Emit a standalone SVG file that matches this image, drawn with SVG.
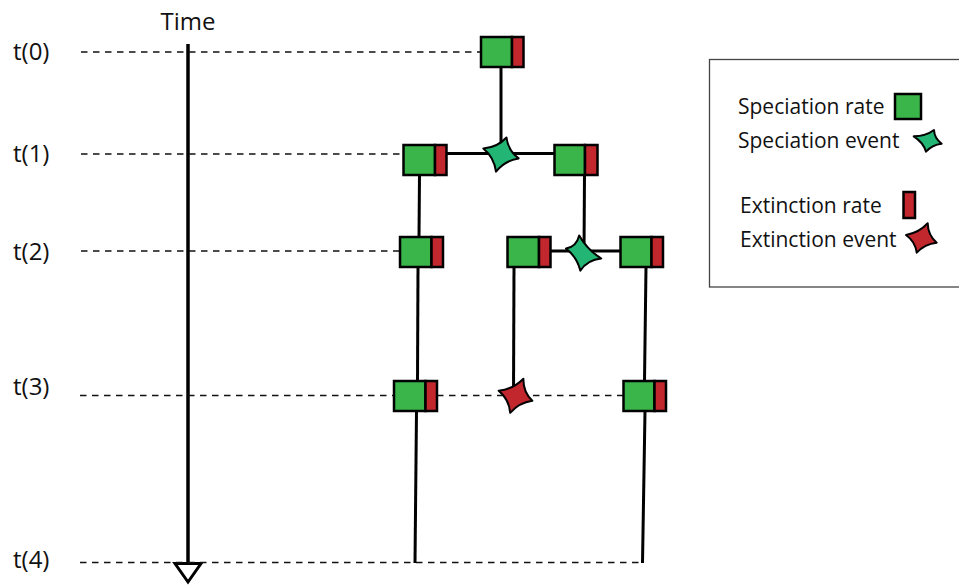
<svg xmlns="http://www.w3.org/2000/svg" width="959" height="585" viewBox="0 0 959 585">
<style>
text{font-family:"Open Sans","Noto Sans","Liberation Sans",sans-serif;fill:#111}
.lbl{font-size:24px}
.leg{font-size:21px}
.dash{stroke:#111;stroke-width:1.5;stroke-dasharray:6.5 5.5;fill:none}
.br{stroke:#000;stroke-width:3;fill:none}
.g{fill:#39b54a;stroke:#000;stroke-width:2.5}
.r{fill:#c1272d;stroke:#000;stroke-width:2.5}
.sg{fill:#22b573;stroke:#000;stroke-width:2;stroke-linejoin:round}
.sr{fill:#c1272d;stroke:#000;stroke-width:2;stroke-linejoin:round}
</style>
<rect width="959" height="585" fill="#fff"/>
<g id="timeaxis">
<text class="lbl" x="160.5" y="29.5">Time</text>
<line x1="188" y1="44" x2="188" y2="563" stroke="#000" stroke-width="3.5"/>
<polygon points="175,563.5 201,563.5 188,582" fill="#fff" stroke="#000" stroke-width="3" stroke-linejoin="miter"/>
</g>
<g id="timelabels">
<text class="lbl" x="13" y="60">t(0)</text>
<text class="lbl" x="13" y="162">t(1)</text>
<text class="lbl" x="13" y="260">t(2)</text>
<text class="lbl" x="13" y="395">t(3)</text>
<text class="lbl" x="13" y="568">t(4)</text>
</g>
<g id="gridlines">
<line class="dash" x1="81" y1="52" x2="481" y2="52"/>
<line class="dash" x1="81" y1="154" x2="404" y2="154"/>
<line class="dash" x1="81" y1="251" x2="400" y2="251"/>
<line class="dash" x1="80" y1="395.5" x2="394" y2="395.5"/>
<line class="dash" x1="437" y1="395.5" x2="623" y2="395.5"/>
<line class="dash" x1="80" y1="562.5" x2="642" y2="562.5"/>
</g>
<g id="connectors">
<line class="br" x1="501" y1="67" x2="501" y2="154"/>
<line class="br" x1="446.5" y1="153.5" x2="554.5" y2="153.5"/>
<line class="br" x1="419.5" y1="175" x2="419" y2="237"/>
<line class="br" x1="418" y1="267" x2="417.5" y2="381"/>
<line class="br" x1="416.5" y1="411" x2="415" y2="563"/>
<line class="br" x1="584.5" y1="175" x2="584" y2="252"/>
<line class="br" x1="550.5" y1="251" x2="620.5" y2="251"/>
<line class="br" x1="514" y1="267" x2="513.5" y2="396"/>
<line class="br" x1="646" y1="267" x2="644.5" y2="381"/>
<line class="br" x1="645" y1="411" x2="642.5" y2="563"/>
</g>
<g id="n0"><rect class="g" x="481" y="37" width="31" height="30"/><rect class="r" x="512" y="37" width="11.5" height="30"/></g>
<g id="n1a"><rect class="g" x="403.5" y="145" width="31.5" height="30"/><rect class="r" x="435" y="145" width="11.5" height="30"/></g>
<g id="n1b"><rect class="g" x="554.5" y="145" width="30.5" height="30"/><rect class="r" x="585" y="145" width="12.5" height="30"/></g>
<g id="n2a"><rect class="g" x="400" y="237" width="31.5" height="30"/><rect class="r" x="431.5" y="237" width="11.5" height="30"/></g>
<g id="n2b"><rect class="g" x="507.5" y="237" width="31.5" height="30"/><rect class="r" x="539" y="237" width="11.5" height="30"/></g>
<g id="n2c"><rect class="g" x="620.5" y="237" width="31" height="30"/><rect class="r" x="651.5" y="237" width="11.5" height="30"/></g>
<g id="n3a"><rect class="g" x="394" y="381" width="31.5" height="30"/><rect class="r" x="425.5" y="381" width="11.5" height="30"/></g>
<g id="n3b"><rect class="g" x="623.5" y="381" width="31" height="30"/><rect class="r" x="654.5" y="381" width="11.5" height="30"/></g>
<g id="spec1"><path class="sg" d="M506.5,137.5 Q507.9,150.4 518.6,158.4 Q504.8,160.6 496,171.6 Q494.2,157.6 483.4,148.5 Q497.4,147.4 506.5,137.5Z"/></g>
<g id="spec2"><path class="sg" d="M579.2,235.4 Q587.1,249.4 601.2,258.5 Q587.5,259.9 580.3,270.6 Q576.9,257 566,248.6 Q576.6,246.4 579.2,235.4Z"/></g>
<g id="ext1"><path class="sr" d="M523.4,378.7 Q523.1,392.2 532.3,400.7 Q519.2,402.5 510.2,412.8 Q509.1,399.5 498.7,390.75 Q513,389.2 523.4,378.7Z"/></g>
<g id="legend">
<rect x="709.5" y="59.5" width="270" height="227.5" fill="none" stroke="#444" stroke-width="1.3"/>
<text class="leg" x="738" y="114">Speciation rate</text>
<rect class="g" x="895" y="94" width="26" height="25"/>
<text class="leg" x="738" y="148">Speciation event</text>
<path class="sg" d="M934,130 Q934.3,138.3 941.7,143.7 Q931.9,144.8 926,151.7 Q923.5,142.6 913.7,136.3 Q925.9,136.1 934,130Z"/>
<text class="leg" x="740" y="213">Extinction rate</text>
<rect class="r" x="903.5" y="192" width="11.5" height="26"/>
<text class="leg" x="740" y="247">Extinction event</text>
<path class="sr" d="M927.7,223.3 Q927.9,235.2 936.7,242.7 Q924.6,244 916.7,252.7 Q915.4,241.7 906,235 Q918.7,232.9 927.7,223.3Z"/>
</g>
</svg>
